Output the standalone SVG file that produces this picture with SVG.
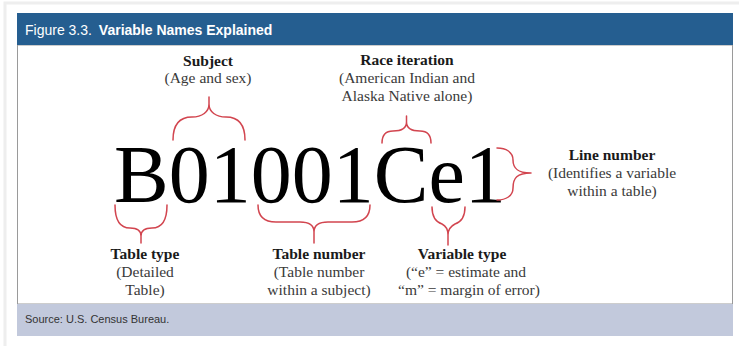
<svg xmlns="http://www.w3.org/2000/svg" width="739" height="346" viewBox="0 0 739 346">
<style>
.hdr{font-family:"Liberation Sans",Arial,sans-serif;font-size:14px;fill:#ffffff}
.src{font-family:"Liberation Sans",Arial,sans-serif;font-size:11px;fill:#333333}
.lb{font-family:"Liberation Serif","Times New Roman",serif;font-size:15.5px;font-weight:bold;fill:#1a1a1a;text-anchor:middle}
.lr{font-family:"Liberation Serif","Times New Roman",serif;font-size:15.5px;fill:#3a3a3a;text-anchor:middle}
.big{font-family:"Liberation Serif","Times New Roman",serif;font-size:82px;fill:#000000}
.brace{fill:none;stroke:#d2454f;stroke-width:1.5;stroke-linecap:round;stroke-linejoin:round}
</style>
<rect x="0" y="0" width="739" height="346" fill="#ffffff"/>
<rect x="5" y="3" width="740" height="345" fill="none" stroke="#eeeeee" stroke-width="3"/>
<g id="frame">
<rect x="17.5" y="45" width="715" height="259" fill="#ffffff" stroke="#9a9a9a" stroke-width="1"/>
</g>
<g id="header">
<rect x="17" y="13" width="716" height="32" fill="#255e90"/>
<text class="hdr" x="25" y="35">Figure 3.3. <tspan font-weight="bold" dx="3">Variable Names Explained</tspan></text>
</g>
<g id="footer">
<rect x="17" y="304" width="716" height="32" fill="#c2c9dc"/>
<text class="src" x="25" y="323">Source: U.S. Census Bureau.</text>
</g>
<g id="code">
<text class="big" x="114" y="202">B01001Ce1</text>
</g>
<g id="label-subject">
<text class="lb" x="208" y="66">Subject</text>
<text class="lr" x="208" y="83">(Age and sex)</text>
</g>
<g id="label-race">
<text class="lb" x="407" y="65">Race iteration</text>
<text class="lr" x="407" y="83">(American Indian and</text>
<text class="lr" x="407" y="101">Alaska Native alone)</text>
</g>
<g id="label-line">
<text class="lb" x="612" y="160">Line number</text>
<text class="lr" x="612" y="178">(Identifies a variable</text>
<text class="lr" x="612" y="196">within a table)</text>
</g>
<g id="label-tabletype">
<text class="lb" x="145" y="259">Table type</text>
<text class="lr" x="145" y="277">(Detailed</text>
<text class="lr" x="145" y="295">Table)</text>
</g>
<g id="label-tablenumber">
<text class="lb" x="319" y="259">Table number</text>
<text class="lr" x="319" y="277">(Table number</text>
<text class="lr" x="319" y="295">within a subject)</text>
</g>
<g id="label-vartype">
<text class="lb" x="462" y="259">Variable type</text>
<text class="lr" x="466" y="277">(“e” = estimate and</text>
<text class="lr" x="469" y="295">“m” = margin of error)</text>
</g>
<g id="connectors">
<path class="brace" d="M173,140 C173,126 178,117 192,117 C202,117 209,112 209,104 L209,97 M245,140 C245,126 240,117 226,117 C216,117 209,112 209,104"/>
<path class="brace" d="M382,143 C382,135 385,131 393,131 C401,131 406.5,128 406.5,122 L406.5,116 M431,143 C431,135 428,131 420,131 C412,131 406.5,128 406.5,122"/>
<path class="brace" d="M497,148 C506,148 513,152 513,160 C513,168 517,173 531,173 M497,200 C506,200 513,196 513,188 C513,178 517,173 531,173"/>
<path class="brace" d="M115,205 C115,220 120,228 130,228 C137,228 141,231 141,236 L141,243 M167,205 C167,220 162,228 152,228 C145,228 141,231 141,236"/>
<path class="brace" d="M258,205 C258,216 264,222 276,222 L300,222 C309,222 314,225 314,232 L314,243 M370,205 C370,216 364,222 352,222 L328,222 C319,222 314,225 314,232"/>
<path class="brace" d="M432,207 C432,217 436,222 442,224 C446,226 448,229 448,235 L448,245 M465,207 C465,217 461,222 455,224 C451,226 448,229 448,235"/>
</g>
</svg>
